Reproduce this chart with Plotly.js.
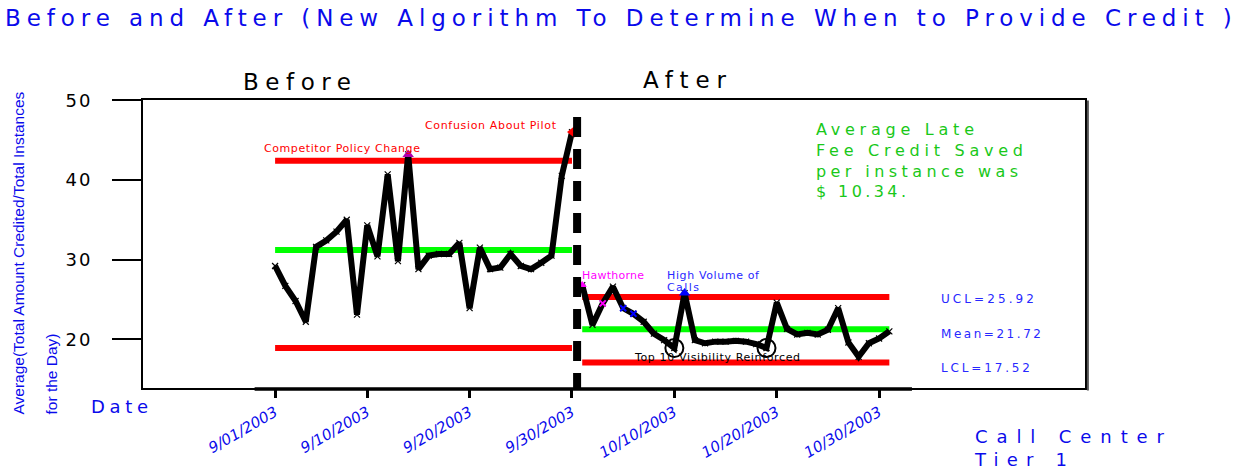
<!DOCTYPE html>
<html>
<head>
<meta charset="utf-8">
<script src="https://cdn.plot.ly/plotly-3.0.1.min.js"></script>
<style>html,body{margin:0;padding:0;background:#fff;}#chart{width:1246px;height:473px;}</style>
</head>
<body>
<div id="chart"></div>
<script>
// ---------------- data ----------------
const beforeDates = ['2003-09-01','2003-09-02','2003-09-03','2003-09-04','2003-09-05','2003-09-06','2003-09-07','2003-09-08','2003-09-09','2003-09-10',
  '2003-09-11','2003-09-12','2003-09-13','2003-09-14','2003-09-15','2003-09-16','2003-09-17','2003-09-18','2003-09-19','2003-09-20',
  '2003-09-21','2003-09-22','2003-09-23','2003-09-24','2003-09-25','2003-09-26','2003-09-27','2003-09-28','2003-09-29','2003-09-30'];
const beforeValues = [29.2, 26.7, 24.8, 22.2, 31.6, 32.4, 33.5, 35.0, 23.1, 34.3,
  30.4, 40.7, 29.8, 43.2, 28.8, 30.5, 30.7, 30.7, 32.1, 23.9,
  31.5, 28.8, 29.0, 30.7, 29.2, 28.8, 29.6, 30.5, 40.5, 46.0];

const afterDates = ['2003-10-01','2003-10-02','2003-10-03','2003-10-04','2003-10-05','2003-10-06','2003-10-07','2003-10-08','2003-10-09','2003-10-10',
  '2003-10-11','2003-10-12','2003-10-13','2003-10-14','2003-10-15','2003-10-16','2003-10-17','2003-10-18','2003-10-19','2003-10-20',
  '2003-10-21','2003-10-22','2003-10-23','2003-10-24','2003-10-25','2003-10-26','2003-10-27','2003-10-28','2003-10-29','2003-10-30','2003-10-31'];
const afterValues = [26.8, 21.8, 24.5, 26.6, 23.9, 23.2, 22.2, 20.7, 19.9, 18.9,
  25.8, 19.9, 19.5, 19.7, 19.7, 19.8, 19.7, 19.4, 18.9, 24.6,
  21.3, 20.6, 20.8, 20.6, 21.2, 23.9, 19.6, 17.8, 19.5, 20.1, 21.0];

// control limits as drawn: [UCL, Mean, LCL]
const beforeLimits = [42.4, 31.2, 18.9];
const afterLimits = [25.3, 21.25, 17.1];
const limitLabels = ['UCL=25.92', 'Mean=21.72', 'LCL=17.52'];

const tickDates = ['2003-09-01','2003-09-10','2003-09-20','2003-09-30','2003-10-10','2003-10-20','2003-10-30'];
const tickLabels = ['9/01/2003','9/10/2003','9/20/2003','9/30/2003','10/10/2003','10/20/2003','10/30/2003'];
const yTicks = [20, 30, 40, 50];

const dividerDate = '2003-09-30 12:00';
const dividerTop = 47.9;

const noteLines = ['Average Late', 'Fee Credit Saved', 'per instance was', '$ 10.34.'];
const cornerLines = ['Call Center', 'Tier 1'];

// ---------------- styling ----------------
const SANS = '"DejaVu Sans", "Liberation Sans", Arial, sans-serif';
const ARIAL = '"Liberation Sans", Arial, sans-serif';
const BLUE = 'rgb(10,10,235)';
const LBLUE = 'rgb(40,40,255)';
const GREEN_TXT = 'rgb(25,200,25)';
const RED = '#ff0000';
const LIME = '#00ff00';
const MAG = '#ff00ff';

const L = 142, R = 1086, T = 99, B = 389, W = 1246, H = 473;
const px = X => (X - L) / (R - L);
const py = Y => (B - Y) / (B - T);

const limitColors = [RED, LIME, RED];
const traces = [];
limitColors.forEach((c, i) => {
  traces.push({x: [beforeDates[0], beforeDates[beforeDates.length - 1]], y: [beforeLimits[i], beforeLimits[i]],
    mode: 'lines', line: {color: c, width: 6}, hoverinfo: 'skip'});
  traces.push({x: [afterDates[0], afterDates[afterDates.length - 1]], y: [afterLimits[i], afterLimits[i]],
    mode: 'lines', line: {color: c, width: 6}, hoverinfo: 'skip'});
});
const dataStyle = {mode: 'lines+markers', line: {color: '#000', width: 6},
  marker: {symbol: 'x-thin', size: 6, color: '#000', line: {width: 1.2, color: '#000'}}};
traces.push(Object.assign({x: beforeDates, y: beforeValues}, dataStyle));
traces.push(Object.assign({x: afterDates, y: afterValues}, dataStyle));

// highlight markers
const pt = (dates, vals, idx) => ({x: idx.map(i => dates[i]), y: idx.map(i => vals[i])});
traces.push(Object.assign(pt(beforeDates, beforeValues, [13]), {mode: 'markers', marker: {symbol: 'triangle-up', size: 10, color: '#b000b0'}}));
traces.push(Object.assign(pt(beforeDates, beforeValues, [29]), {mode: 'markers', marker: {symbol: 'triangle-left', size: 10, color: RED}}));
traces.push(Object.assign(pt(afterDates, afterValues, [0]), {mode: 'markers', marker: {symbol: 'triangle-up', size: 8, color: MAG}}));
traces.push(Object.assign(pt(afterDates, afterValues, [2]), {mode: 'markers', marker: {symbol: 'x-thin', size: 6, color: MAG, line: {width: 2, color: MAG}}}));
traces.push(Object.assign(pt(afterDates, afterValues, [4, 5]), {mode: 'markers', marker: {symbol: 'x-thin', size: 6, color: 'blue', line: {width: 2, color: 'blue'}}}));
traces.push(Object.assign(pt(afterDates, afterValues, [10]), {mode: 'markers', marker: {symbol: 'triangle-up', size: 10, color: 'blue'}}));
traces.push(Object.assign(pt(afterDates, afterValues, [9, 18]), {mode: 'markers', marker: {symbol: 'circle-open', size: 18, color: '#000', line: {width: 2, color: '#000'}}}));

// dashed divider
traces.push({x: [dividerDate, dividerDate], y: [dividerTop, 13.7], mode: 'lines',
  line: {color: '#000', width: 8, dash: '20px,12px'}, hoverinfo: 'skip'});

// ---------------- annotations ----------------
const anns = [];
const fits = []; // target pixel widths per annotation (one per line)
function ann(text, X, Y, size, color, target, extra) {
  anns.push(Object.assign({text: text, x: px(X), y: py(Y), xref: 'paper', yref: 'paper',
    xanchor: 'left', yanchor: 'middle', align: 'left', showarrow: false, borderpad: 0,
    font: {family: SANS, size: size, color: color}}, extra || {}));
  fits.push(target);
}
ann('Before', 242, 82, 23, '#000', [108]);
ann('After', 642, 80, 23, '#000', [83]);
ann(noteLines.join('<br>'), 815, 160.5, 16, GREEN_TXT, [158, 207, 202, 90]);
const limY = [299, 334, 368];
const limW = [93, 100, 89];
limitLabels.forEach((t, i) => ann(t, 940, limY[i], 12, LBLUE, [limW[i]]));
ann('Competitor Policy Change', 263, 148, 11, RED, [156]);
ann('Confusion About Pilot', 424, 126, 11, RED, [131]);
ann('Hawthorne', 581, 275, 11, MAG, [62]);
ann('High Volume of', 666, 275, 11, LBLUE, [92]);
ann('Calls', 666, 287, 11, LBLUE, [32]);
ann('Top 10 Visibility Reinforced', 633, 357, 11, '#000', [165]);
ann('Date', 90, 406, 18, BLUE, [57]);
ann(cornerLines.join('<br>'), 973, 448, 18, BLUE, [189, 92]);
ann('Average(Total Amount Credited/Total Instances', 18, 416, 15.5, BLUE, null,
  {textangle: -90, xanchor: 'center', yanchor: 'bottom', font: {family: ARIAL, size: 15.5, color: BLUE}});
ann('for the Day)', 51, 416, 15.5, BLUE, null,
  {textangle: -90, xanchor: 'center', yanchor: 'bottom', font: {family: ARIAL, size: 15.5, color: BLUE}});

const layout = {
  width: W, height: H, showlegend: false,
  paper_bgcolor: '#fff', plot_bgcolor: '#fff',
  margin: {l: L, r: W - R, t: T, b: H - B, pad: 0},
  title: {text: 'Before and After (New Algorithm To Determine When to Provide Credit )',
    x: 5 / W, xanchor: 'left', y: 1 - 18 / H, yanchor: 'middle',
    font: {family: SANS, size: 23, color: BLUE}},
  xaxis: {type: 'date', range: ['2003-08-19 00:00', '2003-11-19 05:00'], showgrid: false, zeroline: false,
    showline: false, ticks: 'outside', ticklen: 8, tickwidth: 2.5, tickcolor: '#000',
    tickmode: 'array', tickvals: tickDates, ticktext: tickLabels, tickangle: -30,
    tickfont: {family: SANS, size: 15, color: BLUE, style: 'italic'}},
  yaxis: {range: [13.76, 50.15], showgrid: false, zeroline: false, showline: false,
    ticks: 'outside', ticklen: 29, tickwidth: 1.5, tickcolor: '#000',
    tickmode: 'array', tickvals: yTicks, ticktext: yTicks.map(String), ticklabelstandoff: 16,
    tickfont: {family: SANS, size: 18, color: '#000'}},
  shapes: [
    {type: 'rect', xref: 'paper', yref: 'paper', x0: 0, x1: 1, y0: 0, y1: 1, line: {color: '#000', width: 2}},
    {type: 'line', xref: 'paper', yref: 'paper', x0: 1.002, x1: 1.002, y0: -0.005, y1: 0.995, line: {color: '#555', width: 2}},
    {type: 'line', xref: 'x', yref: 'paper', x0: '2003-08-30', x1: '2003-11-02 05:00', y0: 0, y1: 0, line: {color: '#000', width: 3.5}}
  ],
  annotations: anns
};

function fitEl(el, target) {
  if (!el || !target) return;
  el.style.letterSpacing = '0px';
  const w = el.getComputedTextLength();
  const n = el.textContent.length;
  if (n > 1) el.style.letterSpacing = ((target - w) / (n - 1)).toFixed(2) + 'px';
}

Plotly.newPlot('chart', traces, layout, {displayModeBar: false, responsive: false}).then(gd => {
  fitEl(gd.querySelector('.gtitle'), 1227);
  fits.forEach((targets, i) => {
    if (!targets) return;
    const txt = gd.querySelector('.annotation[data-index="' + i + '"] .annotation-text');
    if (!txt) return;
    const lines = txt.querySelectorAll('tspan.line');
    if (lines.length > 1) lines.forEach((ln, k) => fitEl(ln, targets[k]));
    else fitEl(txt, targets[0]);
  });
  gd.querySelectorAll('.ytick text').forEach(el => { el.style.letterSpacing = '2px'; });
});
</script>
</body>
</html>
